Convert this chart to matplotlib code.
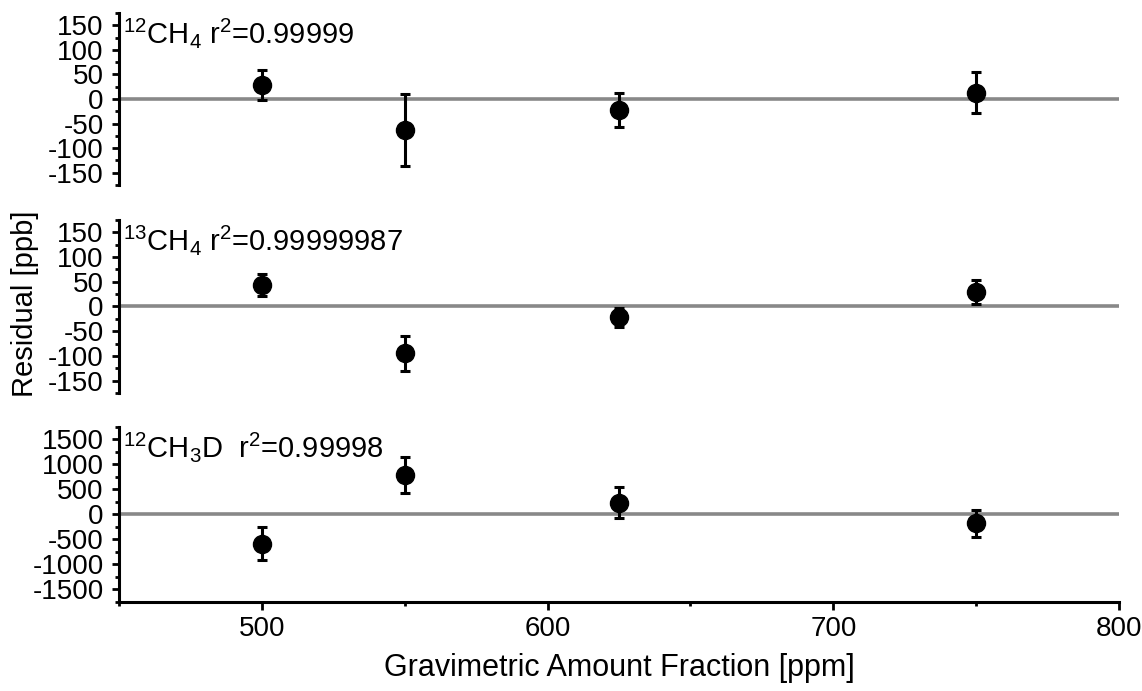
import matplotlib
matplotlib.use("Agg")
import matplotlib.pyplot as plt
from matplotlib.ticker import MultipleLocator

plt.rcParams['font.family'] = 'Liberation Sans'
plt.rcParams['mathtext.fontset'] = 'custom'
plt.rcParams['mathtext.rm'] = 'Liberation Sans'
plt.rcParams['mathtext.it'] = 'Liberation Sans:italic'
plt.rcParams['axes.unicode_minus'] = False

# gravimetric amount fraction of the standards [ppm]
fraction = [500, 550, 625, 750]

# residuals [ppb] and their uncertainties
ch4_12 = [29, -63, -22, 13]
ch4_12_err = [31, 73, 35, 42]
ch4_13 = [43, -95, -22, 29]
ch4_13_err = [22, 36, 19, 24]
ch3d_12 = [-585, 795, 230, -180]
ch3d_12_err = [330, 357, 310, 278]

labels = [r'$^{12}$CH$_4$ r$^2$=0.99999',
          r'$^{13}$CH$_4$ r$^2$=0.99999987',
          r'$^{12}$CH$_3$D  r$^2$=0.99998']

panels = [
    (ch4_12, ch4_12_err, 175, 50, 25),
    (ch4_13, ch4_13_err, 175, 50, 25),
    (ch3d_12, ch3d_12_err, 1750, 500, 250),
]

fig = plt.figure(figsize=(11.42, 6.91), dpi=100)
boxes = [(0.1042, 0.7323, 0.8757, 0.2489),
         (0.1042, 0.4313, 0.8757, 0.2504),
         (0.1042, 0.1288, 0.8757, 0.2533)]

axes = []
for box, (vals, errs, lim, major, minor), label in zip(boxes, panels, labels):
    ax = fig.add_axes(box)
    ax.axhline(0, color='#888888', lw=2.6, zorder=1)
    ax.errorbar(fraction, vals, yerr=errs, fmt='o', color='black',
                ms=13, elinewidth=2.2, capsize=3.8, capthick=2.2, zorder=3)
    ax.set_xlim(450, 800)
    ax.set_ylim(-lim, lim)
    ax.yaxis.set_minor_locator(MultipleLocator(minor))
    ax.set_yticks(list(range(-3 * major, 3 * major + 1, major)))
    for side in ('top', 'right'):
        ax.spines[side].set_visible(False)
    ax.spines['left'].set_linewidth(2.2)
    ax.tick_params(axis='y', which='major', direction='out', length=5,
                   width=2, labelsize=20, pad=6)
    ax.tick_params(axis='y', which='minor', direction='out', length=3, width=2)
    ax.text(0.004, 0.985, label, transform=ax.transAxes, ha='left', va='top',
            fontsize=21)
    axes.append(ax)

for ax in axes[:2]:
    ax.spines['bottom'].set_visible(False)
    ax.tick_params(axis='x', which='both', bottom=False, labelbottom=False)

ax = axes[2]
ax.spines['bottom'].set_linewidth(2.2)
ax.xaxis.set_major_locator(MultipleLocator(100))
ax.xaxis.set_minor_locator(MultipleLocator(50))
ax.tick_params(axis='x', which='major', direction='out', length=6, width=2,
               labelsize=20, pad=4)
ax.tick_params(axis='x', which='minor', direction='out', length=3, width=2)
ax.set_xlabel('Gravimetric Amount Fraction [ppm]', fontsize=22, labelpad=8)

fig.text(0.022, 0.56, 'Residual [ppb]', rotation=90, ha='center', va='center',
         fontsize=21)

fig.savefig('out.png', dpi=100)
